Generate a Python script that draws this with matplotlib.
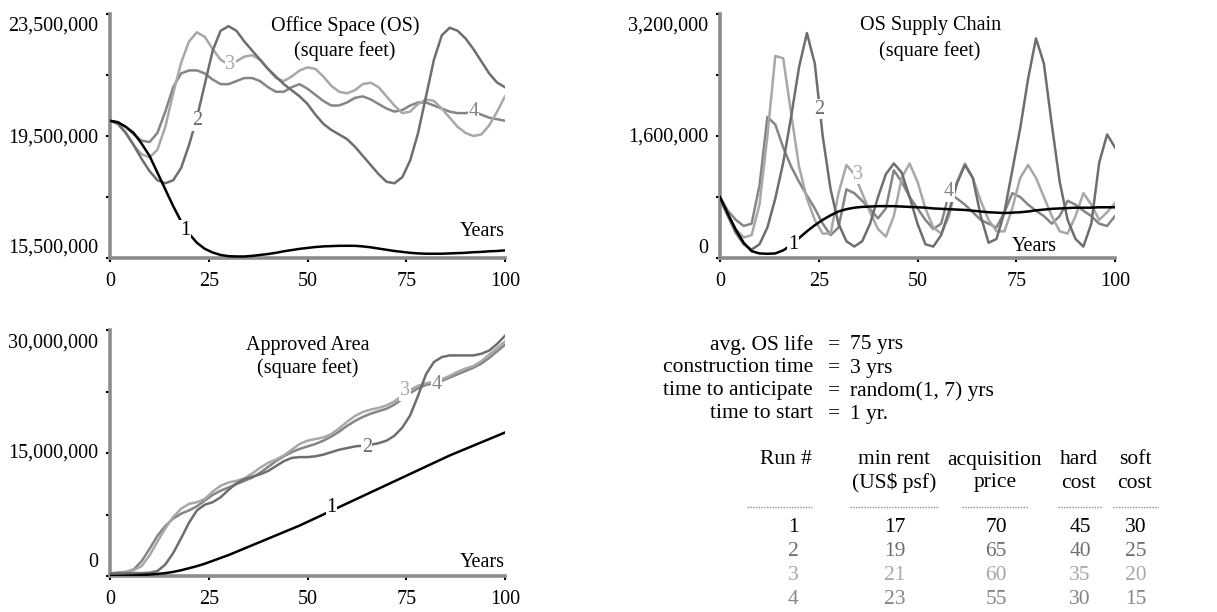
import numpy as np
import matplotlib.pyplot as plt
from matplotlib.lines import Line2D

plt.rcParams['font.family'] = ['Liberation Serif', 'DejaVu Serif']

# years, one value every 2 yrs
years = list(range(0, 101, 2))

# Office Space (million sq ft), runs 1-4
os_run1 = [20.0, 19.95, 19.8, 19.6, 19.25, 18.85, 18.3, 17.75, 17.2, 16.7, 16.3, 16.0, 15.8, 15.68, 15.6, 15.56,
           15.55, 15.55, 15.57, 15.6, 15.63, 15.67, 15.72, 15.76, 15.8, 15.83, 15.86, 15.88, 15.89, 15.9, 15.9,
           15.9, 15.88, 15.85, 15.81, 15.77, 15.73, 15.7, 15.67, 15.65, 15.64, 15.64, 15.64, 15.65, 15.66, 15.67,
           15.69, 15.7, 15.72, 15.73, 15.75]
os_run2 = [20.0, 19.9, 19.6, 19.2, 18.75, 18.35, 18.05, 17.95, 18.05, 18.45, 19.2, 20.1, 21.2, 22.3, 22.95, 23.1,
           22.95, 22.6, 22.3, 22.0, 21.7, 21.45, 21.2, 21.0, 20.8, 20.55, 20.2, 19.9, 19.7, 19.55, 19.4, 19.15,
           18.85, 18.55, 18.25, 18.0, 17.95, 18.15, 18.7, 19.6, 20.8, 22.0, 22.8, 23.05, 22.95, 22.7, 22.35, 21.95,
           21.55, 21.25, 21.1]
os_run3 = [20.0, 19.9, 19.6, 19.2, 18.9, 18.8, 19.05, 19.8, 20.9, 21.9, 22.6, 22.9, 22.75, 22.35, 22.0, 21.85,
           21.95, 22.1, 22.15, 22.0, 21.7, 21.4, 21.3, 21.45, 21.65, 21.75, 21.7, 21.45, 21.15, 20.95, 20.9, 21.0,
           21.2, 21.25, 21.1, 20.8, 20.5, 20.25, 20.3, 20.55, 20.7, 20.65, 20.4, 20.1, 19.8, 19.6, 19.5, 19.55,
           19.85, 20.3, 20.8]
os_run4 = [20.0, 19.95, 19.8, 19.55, 19.35, 19.3, 19.6, 20.3, 21.1, 21.55, 21.65, 21.65, 21.55, 21.35, 21.2, 21.2,
           21.3, 21.4, 21.4, 21.3, 21.1, 20.95, 20.95, 21.1, 21.2, 21.05, 20.85, 20.65, 20.5, 20.5, 20.6, 20.75,
           20.8, 20.7, 20.55, 20.4, 20.3, 20.35, 20.5, 20.6, 20.6, 20.5, 20.4, 20.3, 20.25, 20.25, 20.3, 20.2,
           20.1, 20.05, 20.0]

# OS Supply Chain (million sq ft)
sc_run1 = [0.8, 0.58, 0.37, 0.2, 0.09, 0.06, 0.055, 0.06, 0.1, 0.17, 0.26, 0.35, 0.43, 0.5, 0.56, 0.61, 0.64,
           0.66, 0.67, 0.675, 0.68, 0.68, 0.68, 0.675, 0.67, 0.665, 0.66, 0.65, 0.645, 0.64, 0.635, 0.63, 0.62,
           0.61, 0.6, 0.595, 0.59, 0.595, 0.6, 0.61, 0.625, 0.635, 0.645, 0.65, 0.655, 0.66, 0.66, 0.66, 0.665,
           0.665, 0.665]
sc_run2 = [0.78, 0.55, 0.33, 0.18, 0.11, 0.18, 0.4, 0.78, 1.25, 1.85, 2.5, 2.95, 2.55, 1.6, 0.9, 0.45, 0.22,
           0.15, 0.22, 0.45, 0.8, 1.1, 1.24, 1.12, 0.8, 0.45, 0.18, 0.15, 0.3, 0.62, 0.98, 1.22, 1.05, 0.55, 0.2,
           0.25, 0.6, 1.15, 1.7, 2.35, 2.88, 2.55, 1.75, 1.0, 0.5, 0.25, 0.15, 0.45, 1.25, 1.62, 1.45]
sc_run3 = [0.8, 0.55, 0.38, 0.27, 0.3, 0.7, 1.6, 2.65, 2.62, 1.9, 1.2, 0.78, 0.5, 0.32, 0.32, 0.85, 1.22, 1.1,
           0.85, 0.6, 0.38, 0.28, 0.55, 1.05, 1.24, 1.0, 0.65, 0.4, 0.32, 0.55, 1.0, 1.24, 1.05, 0.75, 0.5, 0.35,
           0.35, 0.65, 1.05, 1.22, 1.05, 0.8, 0.55, 0.35, 0.32, 0.55, 0.85, 0.7, 0.5, 0.6, 0.72]
sc_run4 = [0.8, 0.62, 0.5, 0.42, 0.45, 0.95, 1.85, 1.75, 1.45, 1.2, 1.0, 0.82, 0.65, 0.45, 0.3, 0.4, 0.9, 0.85,
           0.75, 0.64, 0.52, 0.65, 1.15, 1.0, 0.8, 0.65, 0.5, 0.38, 0.45, 0.85, 0.78, 0.7, 0.6, 0.5, 0.45, 0.4,
           0.6, 0.85, 0.8, 0.7, 0.62, 0.55, 0.45, 0.55, 0.75, 0.7, 0.62, 0.55, 0.45, 0.42, 0.55]

# Approved Area (million sq ft)
aa_run1 = [0.0, 0.02, 0.05, 0.08, 0.12, 0.18, 0.25, 0.35, 0.5, 0.7, 0.95, 1.2, 1.5, 1.85, 2.2, 2.55, 2.95, 3.35,
           3.75, 4.15, 4.55, 4.95, 5.35, 5.75, 6.15, 6.6, 7.05, 7.5, 7.95, 8.4, 8.85, 9.3, 9.75, 10.2, 10.65, 11.1,
           11.55, 12.0, 12.45, 12.9, 13.35, 13.8, 14.25, 14.7, 15.1, 15.5, 15.9, 16.3, 16.7, 17.1, 17.5]
aa_run2 = [0.3, 0.35, 0.35, 0.35, 0.35, 0.4, 0.6, 1.4, 2.8, 4.6, 6.5, 8.0, 8.7, 9.0, 9.6, 10.5, 11.3, 11.8, 12.1,
           12.4, 12.8, 13.4, 14.0, 14.4, 14.5, 14.5, 14.6, 14.8, 15.1, 15.4, 15.6, 15.8, 15.9, 16.0, 16.2, 16.5,
           17.1, 18.1, 19.6, 22.0, 24.6, 26.1, 26.7, 26.9, 26.9, 26.9, 26.9, 27.1, 27.5, 28.3, 29.3]
aa_run3 = [0.3, 0.4, 0.5, 0.7, 1.2, 2.5, 4.2, 5.8, 7.2, 8.2, 8.8, 9.0, 9.4, 10.3, 11.0, 11.4, 11.6, 11.9, 12.5,
           13.2, 13.8, 14.2, 14.7, 15.4, 16.1, 16.5, 16.7, 16.9, 17.3, 18.0, 18.8, 19.5, 20.0, 20.3, 20.5, 20.8,
           21.3, 22.0, 22.7, 23.2, 23.5, 23.7, 24.0, 24.4, 24.9, 25.3, 25.6, 26.2, 27.0, 27.8, 28.6]
aa_run4 = [0.3, 0.4, 0.5, 0.8, 1.8, 3.3, 4.9, 6.1, 7.0, 7.6, 8.0, 8.5, 9.2, 9.9, 10.4, 10.8, 11.2, 11.6, 12.0,
           12.6, 13.3, 14.0, 14.6, 15.1, 15.5, 15.8, 16.1, 16.5, 17.0, 17.6, 18.3, 18.9, 19.4, 19.8, 20.1, 20.4,
           20.9, 21.6, 22.3, 22.9, 23.3, 23.5, 23.8, 24.2, 24.6, 25.0, 25.4, 25.9, 26.6, 27.4, 28.2]

run_colors = ['#000000', '#6e6e6e', '#a8a8a8', '#858585']

# parameters and run table
param_names = ['avg. OS life', 'construction time', 'time to anticipate', 'time to start']
param_values = ['75 yrs', '3 yrs', 'random(1, 7) yrs', '1 yr.']
table_runs = ['1', '2', '3', '4']
min_rent = [17, 19, 21, 23]
acq_price = [70, 65, 60, 55]
hard_cost = [45, 40, 35, 30]
soft_cost = [30, 25, 20, 15]

FS = 14.5
W, H = 1217, 612


def setup_axes(ax, ylim, ylabels, title):
    ax.set_xlim(0, 100)
    ax.set_ylim(*ylim)
    for s in ['top', 'right']:
        ax.spines[s].set_visible(False)
    for s in ['left', 'bottom']:
        ax.spines[s].set_color('#8c8c8c')
        ax.spines[s].set_linewidth(2.6)
    ax.set_xticks([0, 25, 50, 75, 100])
    ax.set_xticklabels(['0', '25', '50', '75', '100'], fontsize=FS)
    ax.set_yticks(np.linspace(ylim[0], ylim[1], 5))
    ax.set_yticklabels([])
    ax.tick_params(axis='both', direction='out', length=3, width=1.5, color='black')
    ax.tick_params(axis='x', pad=7)
    for frac, txt in ylabels:
        ax.text(-0.03, frac, txt, transform=ax.transAxes, ha='right', va='center', fontsize=FS)
    cx, cy1, cy2 = title[2]
    ax.text(cx, cy1, title[0], transform=ax.transAxes, ha='center', va='center', fontsize=FS)
    ax.text(cx, cy2, title[1], transform=ax.transAxes, ha='center', va='center', fontsize=FS)


def plot_runs(ax, series, labels):
    for i, ys in enumerate(series):
        ax.plot(years, ys, color=run_colors[i], lw=1.8, zorder=3 + (3 - i) * 0.1)
    for i, (x, y) in enumerate(labels):
        ax.text(x, y, str(i + 1), color=run_colors[i], fontsize=FS, ha='center', va='center', zorder=6,
                bbox=dict(facecolor='white', edgecolor='none', pad=0.5))


def rect(x0, y0, x1, y1):
    return [x0 / W, 1 - y1 / H, (x1 - x0) / W, (y1 - y0) / H]


fig = plt.figure(figsize=(12.17, 6.12), dpi=100)

ax1 = fig.add_axes(rect(110, 14, 505, 258))
setup_axes(ax1, (15.5, 23.5), [(0.951, '23,500,000'), (0.49, '19,500,000'), (0.04, '15,500,000')],
           ('Office Space (OS)', '(square feet)', (0.595, 0.951, 0.849)))
plot_runs(ax1, [os_run1, os_run2, os_run3, os_run4], [(19, 16.4), (22, 20.0), (30.5, 21.85), (92, 20.3)])
ax1.text(1.0, 0.07, 'Years', transform=ax1.transAxes, ha='right', va='bottom', fontsize=FS)

ax2 = fig.add_axes(rect(720, 14, 1115, 258))
setup_axes(ax2, (0, 3.2), [(0.951, '3,200,000'), (0.494, '1,600,000'), (0.04, '0')],
           ('OS Supply Chain', '(square feet)', (0.532, 0.951, 0.849)))
plot_runs(ax2, [sc_run1, sc_run2, sc_run3, sc_run4], [(18.5, 0.18), (25.2, 1.95), (35, 1.1), (58, 0.87)])
ax2.text(0.853, 0.01, 'Years', transform=ax2.transAxes, ha='right', va='bottom', fontsize=FS)

ax3 = fig.add_axes(rect(110, 330, 505, 576))
setup_axes(ax3, (0, 30), [(0.947, '30,000,000'), (0.5, '15,000,000'), (0.053, '0')],
           ('Approved Area', '(square feet)', (0.5, 0.939, 0.845)))
plot_runs(ax3, [aa_run1, aa_run2, aa_run3, aa_run4], [(56, 8.3), (65, 15.7), (74.7, 22.6), (82.7, 23.4)])
ax3.text(1.0, 0.016, 'Years', transform=ax3.transAxes, ha='right', va='bottom', fontsize=FS)

# parameter block
FS2 = 15.5
for k, (name, val) in enumerate(zip(param_names, param_values)):
    y = 1 - (345 + 23 * k) / H
    fig.text(813 / W, y, name, ha='right', va='center', fontsize=FS2)
    fig.text(834 / W, y, '=', ha='center', va='center', fontsize=FS2)
    fig.text(850 / W, y, val, ha='left', va='center', fontsize=FS2)

# run table
fig.text(812 / W, 1 - 460 / H, 'Run #', ha='right', va='center', fontsize=FS2)
headers = [(894, 'min rent', '(US$ psf)'), (995, 'acquisition', 'price'),
           (1079, 'hard', 'cost'), (1135, 'soft', 'cost')]
for x, h1, h2 in headers:
    fig.text(x / W, 1 - 460 / H, h1, ha='center', va='center', fontsize=FS2)
    fig.text(x / W, 1 - 483 / H, h2, ha='center', va='center', fontsize=FS2)
for x0, x1 in [(747, 812), (850, 938), (962, 1028), (1058, 1102), (1113, 1158)]:
    fig.add_artist(Line2D([x0 / W, x1 / W], [1 - 507 / H, 1 - 507 / H], transform=fig.transFigure,
                          color='#8c8c8c', lw=1.0, linestyle=(0, (1, 1))))
cols = [(793, table_runs), (895, min_rent), (996, acq_price), (1080, hard_cost), (1136, soft_cost)]
for r in range(4):
    y = 1 - (528 + 24 * r) / H
    for x, vals in cols:
        fig.text(x / W, y, str(vals[r]), ha='center', va='center', fontsize=FS2, color=run_colors[r])

fig.savefig('out.png', dpi=100)
